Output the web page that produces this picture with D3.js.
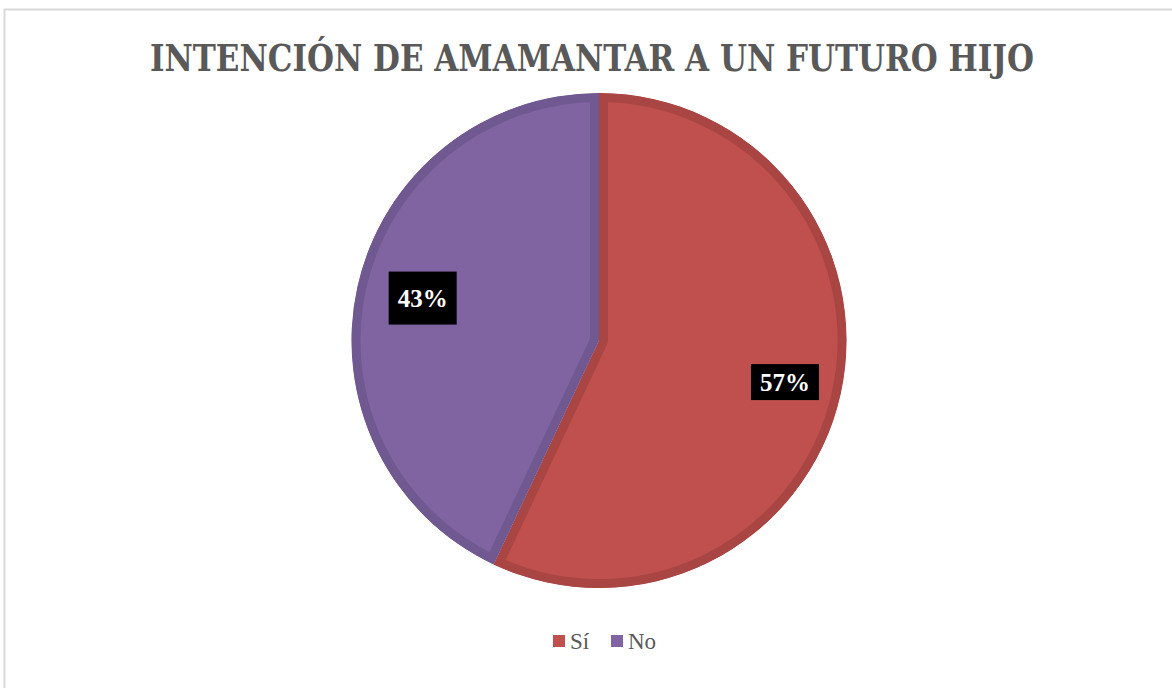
<!DOCTYPE html>
<html>
<head>
<meta charset="utf-8">
<script src="https://cdn.jsdelivr.net/npm/d3@7"></script>
<style>
  body { margin: 0; background: #fff; }
  svg { display: block; }
</style>
</head>
<body>
<div id="chart"></div>
<script>
// data
const categories = ['Sí', 'No']
const values = [57, 43]
const colors = ['#C0504D', '#8064A2']
const edgeColors = ['#A94643', '#705891']
const title = 'INTENCIÓN DE AMAMANTAR A UN FUTURO HIJO'

const W = 1172, H = 688
const cx = 599, cy = 340.5, r = 247.5

const svg = d3.select('#chart').append('svg')
  .attr('width', W).attr('height', H)

// chart area border
svg.append('rect')
  .attr('x', 4.5).attr('y', 9.5)
  .attr('width', W + 10).attr('height', H + 10)
  .attr('fill', '#fff')
  .attr('stroke', '#d9d9d9').attr('stroke-width', 2)

svg.append('text')
  .attr('x', 592).attr('y', 71)
  .attr('text-anchor', 'middle')
  .attr('font-family', 'DejaVu Serif, serif')
  .attr('font-stretch', 'condensed')
  .attr('font-weight', 'bold')
  .attr('font-size', 37)
  .attr('fill', '#595959')
  .attr('textLength', 884)
  .attr('lengthAdjust', 'spacingAndGlyphs')
  .text(title)

const data = categories.map((c, i) => ({cat: c, value: values[i], i}))

const pie = d3.pie().value(d => d.value).sort(null)
const arcs = pie(data)
const arc = d3.arc().innerRadius(0).outerRadius(r)

// label placement (best fit): radius factor and box height per slice
const labelR = [0.77, 0.73]
const boxH = [36, 53]

const g = svg.append('g').attr('transform', `translate(${cx},${cy})`)

const defs = svg.append('defs')
arcs.forEach((d, i) => {
  defs.append('clipPath').attr('id', 'clip' + i)
    .append('path').attr('d', arc(d))
})

g.selectAll('path.slice')
  .data(arcs).enter()
  .append('path')
    .attr('class', 'slice')
    .attr('d', arc)
    .attr('fill', d => colors[d.data.i])
    .attr('stroke', d => edgeColors[d.data.i])
    .attr('stroke-width', 18)
    .attr('stroke-linejoin', 'round')
    .attr('clip-path', (d, i) => `url(#clip${i})`)

// data labels
const lab = g.selectAll('g.lab')
  .data(arcs).enter()
  .append('g')
    .attr('class', 'lab')
    .attr('transform', d => {
      const k = labelR[d.data.i] * r
      const a = d3.arc().innerRadius(k).outerRadius(k)
      const [x, y] = a.centroid(d)
      return `translate(${x},${y - (d.data.i === 1 ? 3 : 0)})`
    })

lab.append('rect')
  .attr('x', -34).attr('y', d => -boxH[d.data.i] / 2)
  .attr('width', 68).attr('height', d => boxH[d.data.i])
  .attr('fill', '#000')

lab.append('text')
  .attr('text-anchor', 'middle')
  .attr('dy', '0.35em')
  .attr('font-family', 'Liberation Serif, serif')
  .attr('font-weight', 'bold')
  .attr('font-size', 25)
  .attr('fill', '#fff')
  .text(d => d.data.value + '%')

// legend
const legend = svg.append('g').attr('transform', 'translate(553,641)')
const lx = [0, 58]
const items = legend.selectAll('g')
  .data(data).enter()
  .append('g')
    .attr('transform', (d, i) => `translate(${lx[i]},0)`)

items.append('rect')
  .attr('x', 0).attr('y', -6)
  .attr('width', 12).attr('height', 12)
  .attr('fill', d => colors[d.i])

items.append('text')
  .attr('x', 17).attr('dy', '0.35em')
  .attr('font-family', 'Liberation Serif, serif')
  .attr('font-size', 23)
  .attr('fill', '#595959')
  .text(d => d.cat)
</script>
</body>
</html>
